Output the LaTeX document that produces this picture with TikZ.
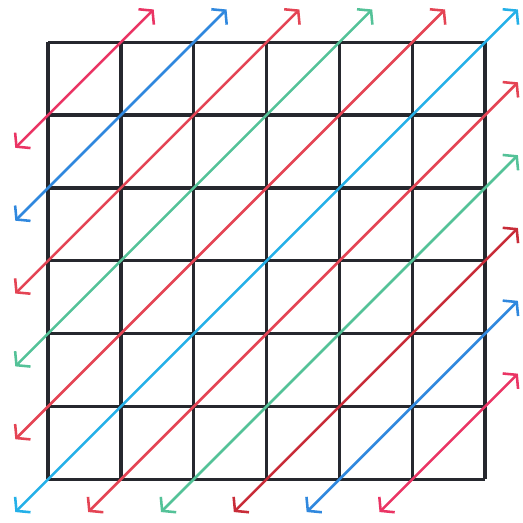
\documentclass[tikz,border=0pt]{standalone}
\usetikzlibrary{arrows.meta}
\definecolor{gridink}{RGB}{38,40,46}
\definecolor{pinkred}{RGB}{234,52,100}
\definecolor{penred}{RGB}{228,68,84}
\definecolor{darkred}{RGB}{200,44,56}
\definecolor{penblue}{RGB}{48,136,222}
\definecolor{pencyan}{RGB}{36,176,232}
\definecolor{pengreen}{RGB}{84,194,152}

\begin{document}
\begin{tikzpicture}[>={Straight Barb[length=3.5pt,width=8.5pt]},
        gridline/.style={draw=gridink,line width=1.3pt},
        diag/.style={<->,line width=1pt,line cap=round}]
  \useasboundingbox (-0.66,-0.59) rectangle (6.52,6.58);
  \draw[gridline] (0,0) grid (6,6);
  % anti-diagonals y = x + k, each one overshooting the grid a little
  \foreach \k/\col in {5/pinkred,4/penblue,3/penred,2/pengreen,1/penred,0/pencyan,
      -1/penred,-2/pengreen,-3/darkred,-4/penblue,-5/pinkred}{
    \pgfmathsetmacro\sx{max(0,-\k)-0.45}
    \pgfmathsetmacro\sy{max(0,\k)-0.45}
    \pgfmathsetmacro\ex{min(6,6-\k)+0.45}
    \pgfmathsetmacro\ey{min(6,6+\k)+0.45}
    \coordinate (lo\k) at (\sx,\sy);
    \coordinate (hi\k) at (\ex,\ey);
    \draw[diag,\col] (lo\k) -- (hi\k);
  }
\end{tikzpicture}
\end{document}
